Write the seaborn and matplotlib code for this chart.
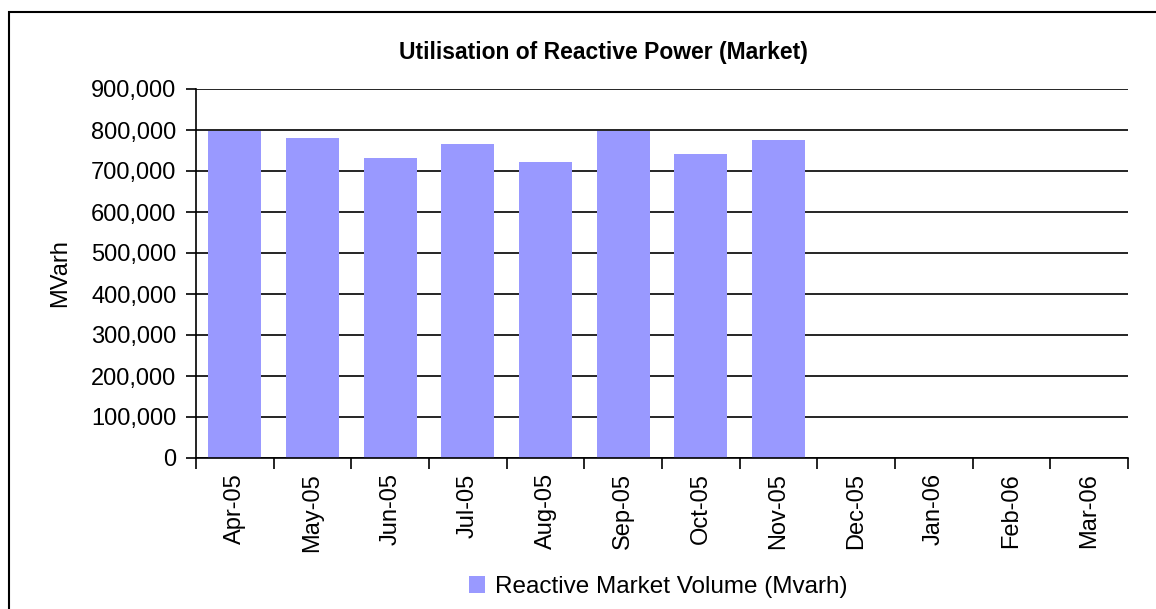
import numpy as np
import pandas as pd
import matplotlib
matplotlib.use("Agg")
import matplotlib.pyplot as plt
import matplotlib.ticker as mticker
from matplotlib.patches import Rectangle, Patch
import seaborn as sns

months = ["Apr-05", "May-05", "Jun-05", "Jul-05", "Aug-05", "Sep-05",
          "Oct-05", "Nov-05", "Dec-05", "Jan-06", "Feb-06", "Mar-06"]
volume = [797000, 780000, 732000, 766000, 722000, 797000,
          741000, 776000, np.nan, np.nan, np.nan, np.nan]

bar_color = "#9999FF"

sns.set_style("white")
plt.rcParams["font.family"] = ["Liberation Sans", "DejaVu Sans"]
plt.rcParams["text.color"] = "black"
plt.rcParams["xtick.color"] = "black"
plt.rcParams["ytick.color"] = "black"
plt.rcParams["axes.labelcolor"] = "black"

df = pd.DataFrame({"month": months, "volume": volume})

fig = plt.figure(figsize=(11.56, 6.09), dpi=100)
ax = fig.add_axes([196 / 1156, 1 - 458 / 609, (1128 - 196) / 1156, (458 - 89) / 609])

sns.barplot(data=df, x="month", y="volume", order=months, color=bar_color,
            saturation=1, width=0.68, ax=ax, errorbar=None, linewidth=0)

ax.set_xlim(-0.5, len(months) - 0.5)
ax.set_ylim(0, 900000)
ax.yaxis.set_major_locator(mticker.MultipleLocator(100000))
ax.yaxis.set_major_formatter(mticker.FuncFormatter(lambda v, p: f"{int(v):,}"))
ax.grid(axis="y", color="black", linewidth=1.2)
ax.set_axisbelow(True)
for s in ["top", "right"]:
    ax.spines[s].set_visible(False)
for s in ["left", "bottom"]:
    ax.spines[s].set_color("black")
    ax.spines[s].set_linewidth(1.2)

# category labels centred, tick marks between categories
ax.set_xticks(range(len(months)))
ax.set_xticklabels(months, rotation=90, fontsize=17)
ax.tick_params(axis="x", which="major", length=0, pad=11)
ax.set_xticks(np.arange(-0.5, len(months), 1), minor=True)
ax.tick_params(axis="x", which="minor", length=8, width=1.2, color="black", bottom=True)
ax.tick_params(axis="y", length=7, width=1.2, color="black", labelsize=17, left=True, pad=7)
ax.set_xlabel("")
ax.set_ylabel("")

fig.text(603 / 1156, 1 - 52 / 609, "Utilisation of Reactive Power (Market)",
         ha="center", va="center", fontsize=16.5, fontweight="bold")
fig.text(60 / 1156, 1 - 273 / 609, "MVarh", rotation=90, ha="center", va="center", fontsize=17)

handles = [Patch(facecolor=bar_color, edgecolor="none", label="Reactive Market Volume (Mvarh)")]
fig.legend(handles=handles, loc="center", bbox_to_anchor=(658 / 1156, 1 - 587 / 609),
           frameon=False, fontsize=17.5, handlelength=0.65, handleheight=0.65, handletextpad=0.4)

fig.patches.append(Rectangle((9 / 1156, -0.02), 1.0, (609 - 12) / 609 + 0.02,
                             transform=fig.transFigure, fill=False, edgecolor="black",
                             linewidth=1.5, clip_on=False))

fig.savefig("out.png", dpi=100)
